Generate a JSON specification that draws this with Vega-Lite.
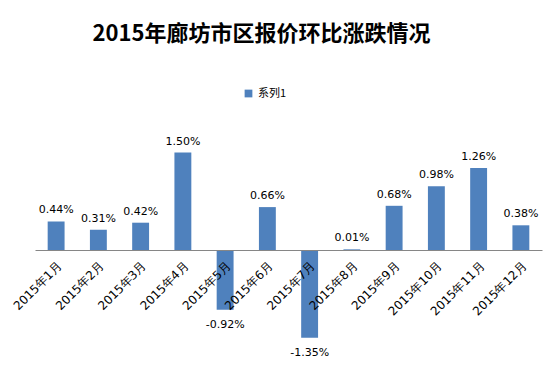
{
  "$schema": "https://vega.github.io/schema/vega-lite/v6.json",
  "width": 507,
  "height": 227.5,
  "autosize": "none",
  "padding": {"left": 35, "top": 120, "right": 16, "bottom": 17.5},
  "background": "white",
  "config": {"view": {"stroke": null}},
  "title": {"text": "2015年廊坊市区报价环比涨跌情况", "fontSize": 22, "font": "Noto Sans CJK SC", "fontWeight": "bold", "color": "#000000", "offset": 42, "dx": -27, "anchor": "middle"},
  "data": {"values": [
    {"month": "2015年1月", "value": 0.44, "label": "0.44%", "series": "系列1"},
    {"month": "2015年2月", "value": 0.31, "label": "0.31%", "series": "系列1"},
    {"month": "2015年3月", "value": 0.42, "label": "0.42%", "series": "系列1"},
    {"month": "2015年4月", "value": 1.50, "label": "1.50%", "series": "系列1"},
    {"month": "2015年5月", "value": -0.92, "label": "-0.92%", "series": "系列1"},
    {"month": "2015年6月", "value": 0.66, "label": "0.66%", "series": "系列1"},
    {"month": "2015年7月", "value": -1.35, "label": "-1.35%", "series": "系列1"},
    {"month": "2015年8月", "value": 0.01, "label": "0.01%", "series": "系列1"},
    {"month": "2015年9月", "value": 0.68, "label": "0.68%", "series": "系列1"},
    {"month": "2015年10月", "value": 0.98, "label": "0.98%", "series": "系列1"},
    {"month": "2015年11月", "value": 1.26, "label": "1.26%", "series": "系列1"},
    {"month": "2015年12月", "value": 0.38, "label": "0.38%", "series": "系列1"}
  ]},
  "encoding": {
    "x": {"field": "month", "type": "nominal", "sort": null,
      "scale": {"paddingInner": 0.6, "paddingOuter": 0.3},
      "axis": {"title": null, "labelAngle": -45, "offset": -97.5, "zindex": 1, "ticks": false, "domainColor": "#868686", "labelFontSize": 12, "labelFont": "DejaVu Sans", "labelColor": "#000000", "labelPadding": 10}}
  },
  "layer": [
    {
      "mark": {"type": "bar"},
      "encoding": {
        "y": {"field": "value", "type": "quantitative", "scale": {"domain": [-1.5, 2], "nice": false, "zero": true}, "axis": null},
        "color": {"field": "series", "type": "nominal", "scale": {"range": ["#4F81BD"]},
          "legend": {"orient": "none", "legendX": 208, "legendY": -32, "title": null, "symbolType": "square", "symbolSize": 60, "labelFontSize": 11, "labelFont": "Noto Sans CJK SC", "labelColor": "#000000"}}
      }
    },
    {
      "transform": [{"filter": "datum.value >= 0"}],
      "mark": {"type": "text", "baseline": "bottom", "dy": -6, "fontSize": 11, "font": "DejaVu Sans", "color": "#000000"},
      "encoding": {
        "y": {"field": "value", "type": "quantitative"},
        "text": {"field": "label"}
      }
    },
    {
      "transform": [{"filter": "datum.value < 0"}],
      "mark": {"type": "text", "baseline": "top", "dy": 9, "fontSize": 11, "font": "DejaVu Sans", "color": "#000000"},
      "encoding": {
        "y": {"field": "value", "type": "quantitative"},
        "text": {"field": "label"}
      }
    }
  ]
}
